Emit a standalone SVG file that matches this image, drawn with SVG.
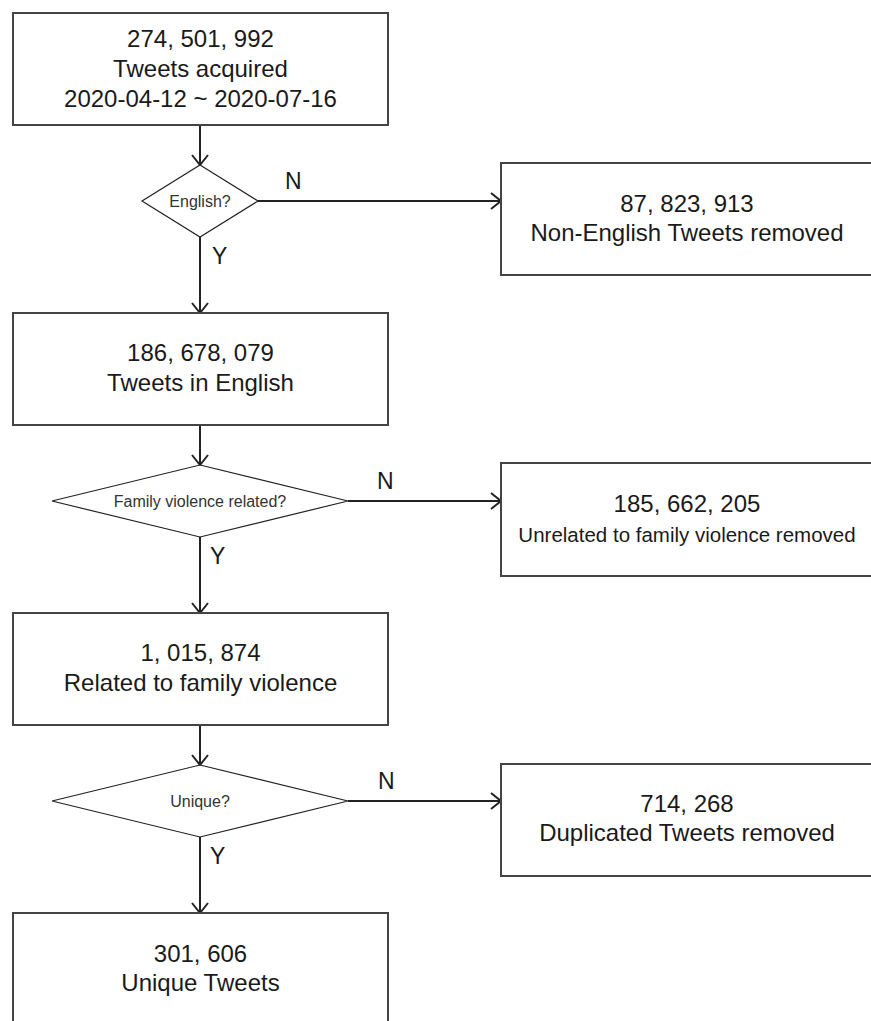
<svg xmlns="http://www.w3.org/2000/svg" width="871" height="1021" viewBox="0 0 871 1021">
<style>
.box{fill:#fff;stroke:#444;stroke-width:2}
.dia{fill:#fff;stroke:#222;stroke-width:1.2}
.t{font-family:"Liberation Sans",Arial,sans-serif;font-size:24px;fill:#1a1a1a;text-anchor:middle}
.s{font-family:"Liberation Sans",Arial,sans-serif;font-size:16px;fill:#333;text-anchor:middle}
.m{font-family:"Liberation Sans",Arial,sans-serif;font-size:20.5px;fill:#1a1a1a;text-anchor:middle}
.lab{font-family:"Liberation Sans",Arial,sans-serif;font-size:23px;fill:#1a1a1a}
.c{fill:none;stroke:#222;stroke-width:2}
</style>
<defs>
<marker id="arr" viewBox="0 0 12 18" refX="11" refY="9" markerWidth="12" markerHeight="18" markerUnits="userSpaceOnUse" orient="auto">
<path d="M1,1 L11,9 L1,17" fill="none" stroke="#222" stroke-width="2"/>
</marker>
</defs>
<g id="connectors">
<line class="c" x1="200" y1="125" x2="200" y2="165" marker-end="url(#arr)"/>
<line class="c" x1="200" y1="237" x2="200" y2="313" marker-end="url(#arr)"/>
<line class="c" x1="258" y1="201" x2="501" y2="201" marker-end="url(#arr)"/>
<line class="c" x1="200" y1="425" x2="200" y2="465" marker-end="url(#arr)"/>
<line class="c" x1="200" y1="537" x2="200" y2="613" marker-end="url(#arr)"/>
<line class="c" x1="348" y1="501" x2="501" y2="501" marker-end="url(#arr)"/>
<line class="c" x1="200" y1="725" x2="200" y2="765" marker-end="url(#arr)"/>
<line class="c" x1="200" y1="837" x2="200" y2="913" marker-end="url(#arr)"/>
<line class="c" x1="348" y1="801" x2="501" y2="801" marker-end="url(#arr)"/>
<text class="lab" x="285" y="189">N</text>
<text class="lab" x="212" y="264">Y</text>
<text class="lab" x="377" y="489">N</text>
<text class="lab" x="210" y="564">Y</text>
<text class="lab" x="378" y="789">N</text>
<text class="lab" x="210" y="864">Y</text>
</g>
<g id="acquired">
<rect class="box" x="13" y="13" width="375" height="112"/>
<text class="t" x="200.5" y="47">274, 501, 992</text>
<text class="t" x="200.5" y="77">Tweets acquired</text>
<text class="t" x="200.5" y="107">2020-04-12 ~ 2020-07-16</text>
</g>
<g id="english-q">
<polygon class="dia" points="200,165 258,201 200,237 142,201"/>
<text class="s" x="200" y="207">English?</text>
</g>
<g id="non-english">
<rect class="box" x="501" y="163" width="372" height="112"/>
<text class="t" x="687" y="212">87, 823, 913</text>
<text class="t" x="687" y="241">Non-English Tweets removed</text>
</g>
<g id="in-english">
<rect class="box" x="13" y="313" width="375" height="112"/>
<text class="t" x="200.5" y="361">186, 678, 079</text>
<text class="t" x="200.5" y="391">Tweets in English</text>
</g>
<g id="family-q">
<polygon class="dia" points="200,465 348,501 200,537 52,501"/>
<text class="s" x="200" y="507">Family violence related?</text>
</g>
<g id="unrelated">
<rect class="box" x="501" y="463" width="372" height="113"/>
<text class="t" x="687" y="512">185, 662, 205</text>
<text class="m" x="687" y="542">Unrelated to family violence removed</text>
</g>
<g id="related">
<rect class="box" x="13" y="613" width="375" height="112"/>
<text class="t" x="200.5" y="661">1, 015, 874</text>
<text class="t" x="200.5" y="691">Related to family violence</text>
</g>
<g id="unique-q">
<polygon class="dia" points="200,765 348,801 200,837 52,801"/>
<text class="s" x="200" y="807">Unique?</text>
</g>
<g id="duplicated">
<rect class="box" x="501" y="764" width="372" height="112"/>
<text class="t" x="687" y="812">714, 268</text>
<text class="t" x="687" y="841">Duplicated Tweets removed</text>
</g>
<g id="unique">
<rect class="box" x="13" y="913" width="375" height="120"/>
<text class="t" x="200.5" y="962">301, 606</text>
<text class="t" x="200.5" y="991">Unique Tweets</text>
</g>
</svg>
